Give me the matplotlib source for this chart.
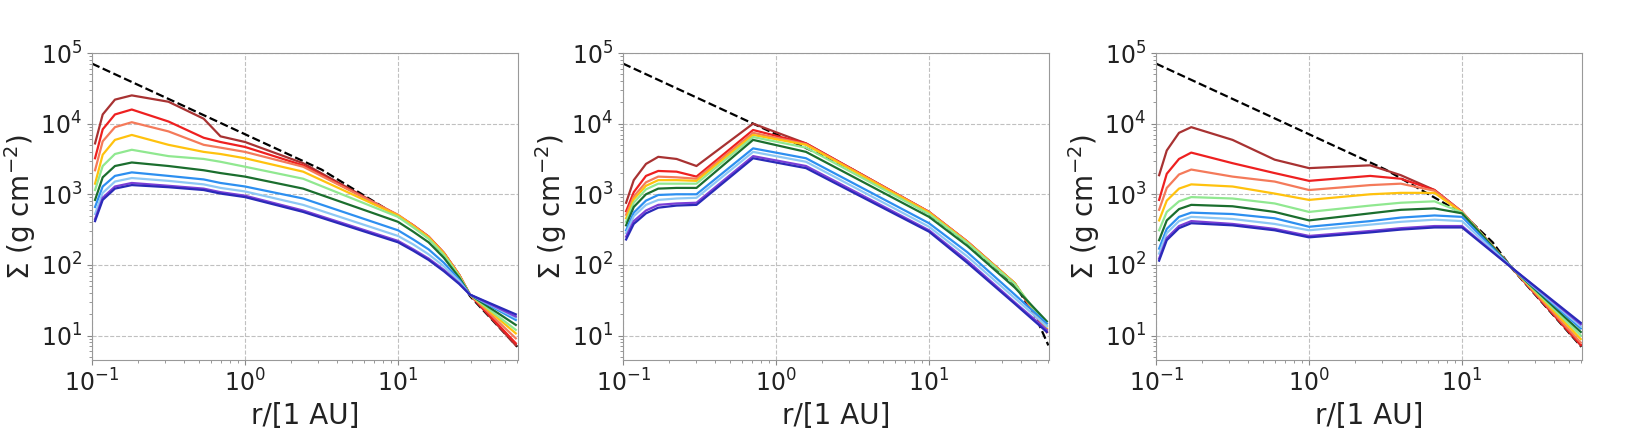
import matplotlib
matplotlib.use("Agg")
import matplotlib.pyplot as plt
import numpy as np

# log10(r / AU) sample points and log10(Sigma / g cm^-2)
colors = ['#a83232', '#ee2020', '#f47a5a', '#ffc20e', '#90e890',
          '#1b6e2e', '#2d8ff0', '#8ec8f5', '#7b3fd6', '#2a2ab8']

# dashed reference profile, where it runs under the curves it follows the top one
lr_dash1 = [-1.0, 0.5, 1.0, 1.1, 1.2, 1.3, 1.4, 1.47, 1.78]
ls_dash1 = [4.85, 3.35, 2.69, 2.55, 2.38, 2.14, 1.83, 1.56, 0.84]
lr_dash2 = [-1.0, 0.5, 1.0, 1.25, 1.56, 1.70, 1.78]
ls_dash2 = [4.85, 3.35, 2.72, 2.31, 1.72, 1.25, 0.86]
lr_dash3 = [-1.0, 0.5, 1.0, 1.2, 1.33, 1.78]
ls_dash3 = [4.85, 3.35, 2.73, 2.32, 1.94, 0.84]

# panel 1
lr1 = [-0.98, -0.93, -0.85, -0.74, -0.5, -0.27, -0.16, 0.0, 0.38,
       1.0, 1.1, 1.2, 1.3, 1.4, 1.47, 1.77]
ls1 = [
    [3.72, 4.13, 4.34, 4.40, 4.31, 4.07, 3.82, 3.74, 3.44, 2.70, 2.56, 2.40, 2.17, 1.86, 1.58, 0.86],
    [3.51, 3.92, 4.13, 4.20, 4.03, 3.80, 3.74, 3.67, 3.41, 2.70, 2.56, 2.40, 2.17, 1.86, 1.58, 0.89],
    [3.34, 3.75, 3.95, 4.02, 3.89, 3.70, 3.66, 3.60, 3.39, 2.71, 2.56, 2.40, 2.17, 1.86, 1.58, 0.96],
    [3.15, 3.56, 3.77, 3.84, 3.70, 3.60, 3.57, 3.51, 3.32, 2.70, 2.55, 2.39, 2.16, 1.85, 1.58, 1.03],
    [3.06, 3.40, 3.57, 3.63, 3.54, 3.50, 3.46, 3.39, 3.22, 2.68, 2.53, 2.37, 2.14, 1.84, 1.58, 1.08],
    [2.92, 3.24, 3.40, 3.45, 3.40, 3.34, 3.30, 3.25, 3.08, 2.61, 2.47, 2.32, 2.10, 1.82, 1.58, 1.15],
    [2.82, 3.11, 3.26, 3.31, 3.26, 3.21, 3.16, 3.11, 2.94, 2.49, 2.36, 2.22, 2.03, 1.79, 1.58, 1.22],
    [2.72, 3.02, 3.18, 3.23, 3.19, 3.14, 3.09, 3.04, 2.85, 2.41, 2.29, 2.15, 1.98, 1.77, 1.58, 1.25],
    [2.65, 2.95, 3.11, 3.16, 3.12, 3.08, 3.03, 2.98, 2.77, 2.34, 2.22, 2.09, 1.93, 1.74, 1.58, 1.27],
    [2.62, 2.92, 3.08, 3.13, 3.10, 3.06, 3.01, 2.96, 2.75, 2.32, 2.20, 2.07, 1.91, 1.73, 1.58, 1.30],
]

# panel 2
lr2 = [-0.98, -0.93, -0.85, -0.77, -0.65, -0.52, -0.15, 0.196, 1.0, 1.25, 1.56, 1.77]
ls2 = [
    [2.88, 3.20, 3.43, 3.53, 3.50, 3.40, 4.00, 3.72, 2.75, 2.33, 1.74, 1.05],
    [2.76, 3.03, 3.26, 3.33, 3.32, 3.25, 3.91, 3.72, 2.75, 2.33, 1.74, 1.05],
    [2.71, 2.97, 3.17, 3.25, 3.24, 3.22, 3.87, 3.71, 2.75, 2.33, 1.74, 1.07],
    [2.66, 2.93, 3.12, 3.20, 3.20, 3.19, 3.84, 3.70, 2.74, 2.32, 1.74, 1.10],
    [2.61, 2.88, 3.07, 3.15, 3.15, 3.15, 3.81, 3.66, 2.72, 2.31, 1.73, 1.14],
    [2.56, 2.82, 3.00, 3.08, 3.09, 3.09, 3.77, 3.60, 2.68, 2.27, 1.68, 1.20],
    [2.49, 2.74, 2.91, 2.99, 3.00, 3.00, 3.65, 3.51, 2.59, 2.18, 1.58, 1.17],
    [2.45, 2.69, 2.85, 2.92, 2.94, 2.95, 3.60, 3.46, 2.54, 2.12, 1.53, 1.13],
    [2.40, 2.62, 2.77, 2.85, 2.87, 2.88, 3.54, 3.40, 2.49, 2.06, 1.47, 1.08],
    [2.36, 2.58, 2.73, 2.81, 2.84, 2.85, 3.51, 3.37, 2.47, 2.03, 1.45, 1.05],
]

# panel 3
lr3 = [-0.98, -0.93, -0.85, -0.77, -0.5, -0.225, 0.0, 0.4, 0.6, 0.82, 1.0, 1.33, 1.776]
ls3 = [
    [3.27, 3.62, 3.87, 3.95, 3.77, 3.49, 3.37, 3.41, 3.27, 3.06, 2.75, 1.95, 0.86],
    [2.92, 3.29, 3.50, 3.59, 3.44, 3.30, 3.19, 3.26, 3.22, 3.06, 2.75, 1.95, 0.87],
    [2.78, 3.09, 3.28, 3.35, 3.25, 3.18, 3.06, 3.13, 3.15, 3.05, 2.75, 1.95, 0.90],
    [2.63, 2.91, 3.08, 3.14, 3.11, 3.01, 2.92, 3.00, 3.02, 3.02, 2.74, 1.95, 0.95],
    [2.49, 2.75, 2.90, 2.96, 2.94, 2.87, 2.75, 2.84, 2.88, 2.90, 2.74, 1.95, 1.00],
    [2.35, 2.63, 2.79, 2.85, 2.83, 2.75, 2.63, 2.73, 2.78, 2.80, 2.73, 1.95, 1.05],
    [2.23, 2.51, 2.68, 2.74, 2.72, 2.66, 2.54, 2.62, 2.67, 2.70, 2.68, 1.95, 1.10],
    [2.16, 2.45, 2.62, 2.68, 2.65, 2.58, 2.49, 2.57, 2.61, 2.64, 2.62, 1.95, 1.13],
    [2.09, 2.38, 2.55, 2.62, 2.58, 2.51, 2.41, 2.48, 2.52, 2.55, 2.55, 1.95, 1.16],
    [2.06, 2.35, 2.52, 2.59, 2.56, 2.49, 2.39, 2.46, 2.50, 2.53, 2.53, 1.95, 1.18],
]

panels = [(lr1, ls1, lr_dash1, ls_dash1),
          (lr2, ls2, lr_dash2, ls_dash2),
          (lr3, ls3, lr_dash3, ls_dash3)]
lefts = [0.0563, 0.3813, 0.7075]

fig = plt.figure(figsize=(16.34, 4.47), dpi=100)

for left, (lr, ls, lrd, lsd) in zip(lefts, panels):
    ax = fig.add_axes([left, 0.1946, 0.2608, 0.6868])
    ax.plot(10 ** np.array(lrd), 10 ** np.array(lsd), color='black',
            ls='--', lw=1.6, zorder=2)
    for c, row in zip(colors, ls):
        ax.plot(10 ** np.array(lr), 10 ** np.array(row), color=c, lw=1.6, zorder=3)
    ax.set_xscale('log')
    ax.set_yscale('log')
    ax.set_xlim(0.1, 61)
    ax.set_ylim(4.5, 1e5)
    ax.grid(True, which='major', ls='--', color='#c0c0c0', lw=0.8)
    for s in ax.spines.values():
        s.set_color('#999999')
    ax.tick_params(which='both', colors='#888888', labelcolor='#222222', labelsize=17)
    ax.set_xlabel('r/[1 AU]', fontsize=20, color='#222222')
    ax.set_ylabel(r'$\Sigma$ (g cm$^{-2}$)', fontsize=20, color='#222222', labelpad=2)

fig.savefig('out.png', dpi=100)
